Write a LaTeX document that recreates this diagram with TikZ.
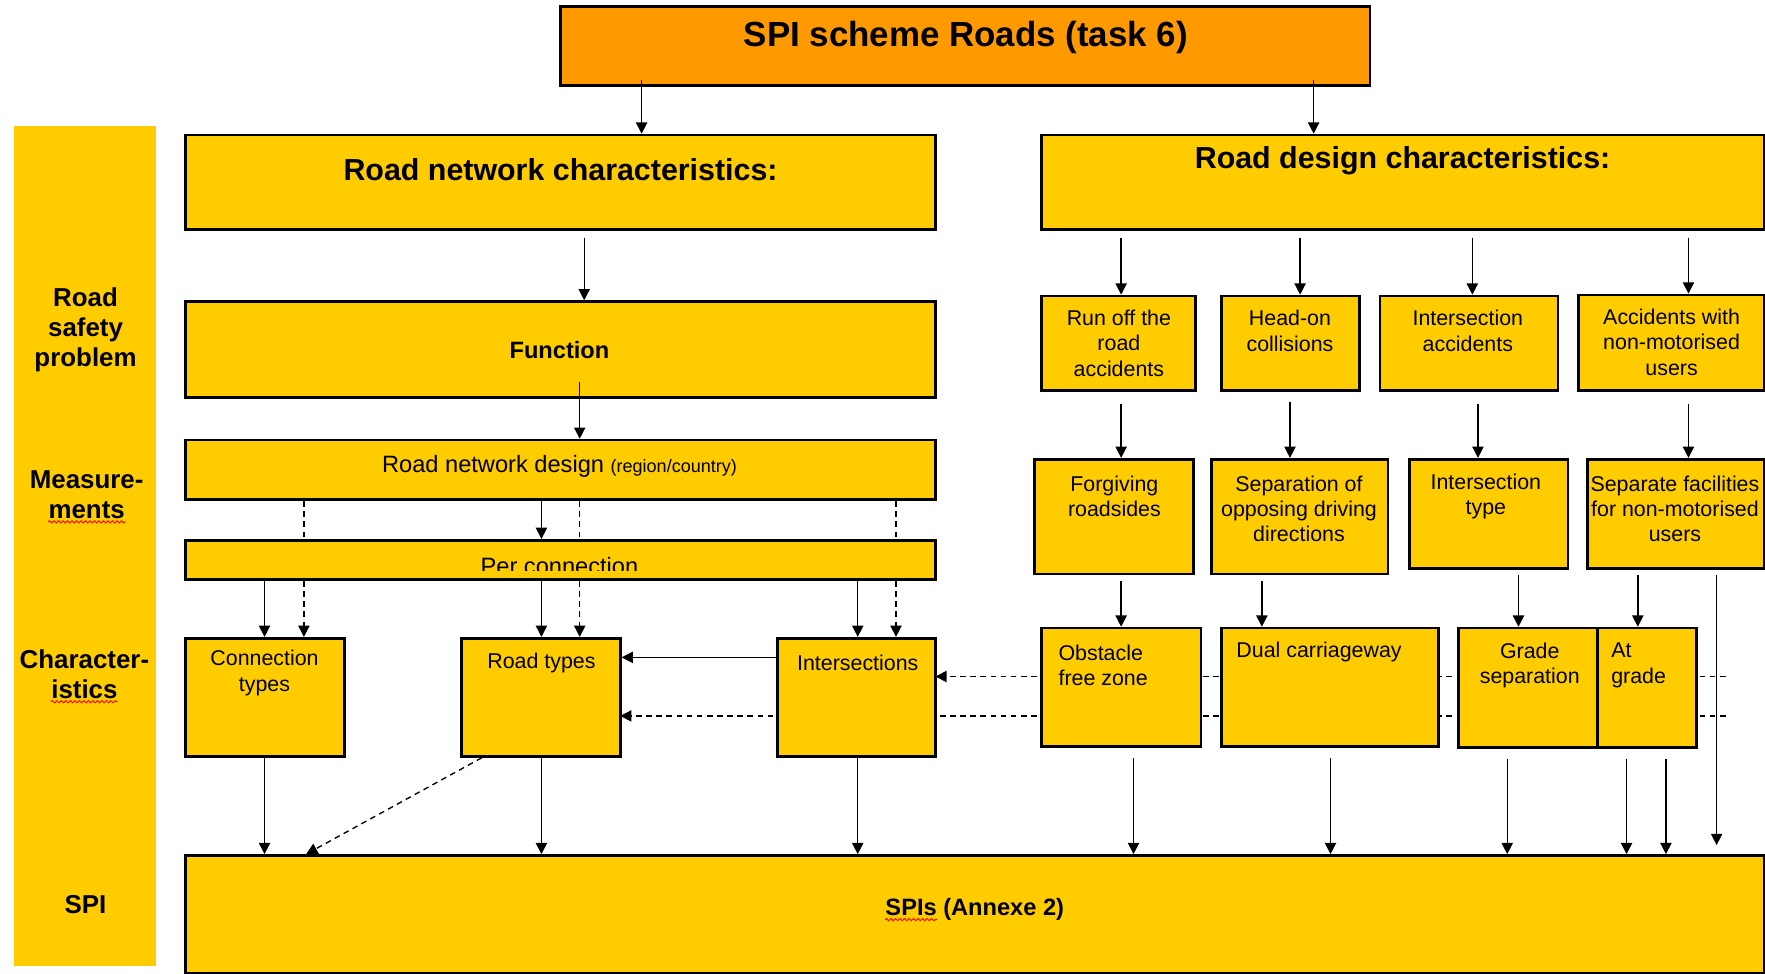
\documentclass[tikz,border=0pt]{standalone}
\usepackage{fontspec}
\setmainfont{Liberation Sans}
\usetikzlibrary{arrows.meta,fit,decorations.pathmorphing}
\definecolor{ylw}{HTML}{FFCC00}
\definecolor{org}{HTML}{FF9900}
\begin{document}
\begin{tikzpicture}[x=0.5pt,y=-0.5pt,
  box/.style={draw=black,line width=1.2pt,fill=ylw,inner sep=0pt},
  arr/.style={-{Triangle[length=5pt,width=5pt]},line width=0.6pt},
  dsh/.style={dash pattern=on 2.5pt off 2pt,line width=0.6pt},
  txt/.style={font=\fontsize{9.5}{11.25}\selectfont,align=center,inner sep=0pt},
  txtl/.style={font=\fontsize{9.5}{11.25}\selectfont,align=left,inner sep=0pt,anchor=west},
  mid/.style={font=\fontsize{10.5}{12.5}\selectfont,inner sep=0pt},
  bmid/.style={font=\bfseries\fontsize{10.5}{12.5}\selectfont,inner sep=0pt},
  hdr/.style={font=\bfseries\fontsize{13.5}{16}\selectfont,inner sep=0pt},
  lbl/.style={font=\bfseries\fontsize{11.5}{13.5}\selectfont,align=center,inner sep=0pt},
  wavy/.style={draw=red,line width=0.4pt,decorate,decoration={snake,amplitude=0.5pt,segment length=2pt}}
]
\useasboundingbox (0,0) rectangle (1568,865);

% left label column
\fill[ylw] (12,112) rectangle (139,858);
\node[lbl] (l-rsp) at (76,293) {Road\\safety\\problem};
\node[lbl] (l-m1) at (77,426) {Measure-};
\node[lbl] (l-m2) at (77,453) {ments};
\draw[wavy] ([yshift=-1.6pt]l-m2.base west) -- ([yshift=-1.6pt]l-m2.base east);
\node[lbl] (l-c1) at (75,586) {Character-};
\node[lbl] (l-c2) at (75,612) {istics};
\draw[wavy] ([yshift=-1.6pt]l-c2.base west) -- ([yshift=-1.6pt]l-c2.base east);
\node[lbl] (l-spi) at (76,804) {SPI};

% free ends of the dashed horizontal lines
\coordinate (d1) at (1533,601);
\coordinate (d2) at (1533,636);

% top box
\node[box,fill=org,fit={(498,6)(1217,76)}] (top) {};
\node[font=\bfseries\fontsize{15.5}{18}\selectfont,inner sep=0pt] (top-t) at (858,33) {SPI scheme Roads (task 6)};

% left column boxes
\node[box,fit={(165,120)(831,204)}] (rnc) {};
\node[hdr] (rnc-t) at (498,151) {Road network characteristics:};
\node[box,fit={(165,268)(831,353)}] (fun) {};
\node[bmid] (fun-t) at (497,311) {Function};
\node[box,fit={(165,391)(831,444)}] (rnd) {};
\node[mid] (rnd-t) at (497,414) {Road network design {\fontsize{8}{9}\selectfont(region/country)}};
\node[box,fit={(165,480)(831,515)}] (per) {};
\begin{scope}
\clip (165,480) rectangle (831,507);
\node[mid,anchor=base] (per-t) at (497,510) {Per connection};
\end{scope}

% dashed lines drawn before the lower boxes
\draw[dsh,-{Triangle[length=5pt,width=5pt]}] (d1) -- (831,601);
\draw[dsh,-{Triangle[length=5pt,width=5pt]}] (d2) -- (551,636);

\node[box,fit={(165,567)(306,672)}] (ct) {};
\node[txt] (ct-t) at (235,598) {Connection\\types};
\node[box,fit={(410,567)(551,672)}] (rt) {};
\node[txt] (rt-t) at (481,589) {Road types};
\node[box,fit={(691,567)(831,672)}] (in) {};
\node[txt] (in-t) at (762,589) {Intersections};

% right column
\node[box,fit={(925,120)(1567,204)}] (rdc) {};
\node[hdr] (rdc-t) at (1246,143) {Road design characteristics:};

\node[box,fit={(925,263)(1062,347)}] (a1) {};
\node[txt] (a1-t) at (994,305) {Run off the\\road\\accidents};
\node[box,fit={(1085,263)(1208,347)}] (a2) {};
\node[txt] (a2-t) at (1146,294) {Head-on\\collisions};
\node[box,fit={(1226,263)(1384,347)}] (a3) {};
\node[txt] (a3-t) at (1304,294) {Intersection\\accidents};
\node[box,fit={(1402,262)(1567,347)}] (a4) {};
\node[txt] (a4-t) at (1485,304) {Accidents with\\non-motorised\\users};

\node[box,fit={(919,408)(1060,510)}] (m1) {};
\node[txt] (m1-t) at (990,441) {Forgiving\\roadsides};
\node[box,fit={(1076,408)(1233,510)}] (m2) {};
\node[txt] (m2-t) at (1154,452) {Separation of\\opposing driving\\directions};
\node[box,fit={(1252,408)(1393,505)}] (m3) {};
\node[txt] (m3-t) at (1320,441) {Intersection\\type};
\node[box,fit={(1410,408)(1567,505)}] (m4) {};
\node[txt] (m4-t) at (1488,452) {Separate facilities\\for non-motorised\\users};

\node[box,fit={(925,558)(1067,663)}] (c1) {};
\node[txtl] (c1-t) at (940,591) {Obstacle\\free zone};
\node[box,fit={(1085,558)(1278,663)}] (c2) {};
\node[txtl] (c2-t) at (1098,579) {Dual carriageway};
\node[box,fit={(1296,558)(1424,664)}] (c3) {};
\node[txt] (c3-t) at (1359,591) {Grade\\separation};
\node[box,fit={(1419,558)(1507,664)}] (c4) {};
\node[txtl] (c4-t) at (1431,591) {At\\grade};

% SPIs
\node[box,fit={(165,760)(1567,865)}] (spi) {};
\node[bmid] (spi-t) at (866,808) {SPIs (Annexe 2)};
\node[bmid,anchor=base west] (spi-w) at (spi-t.base west) {\phantom{SPIs}};
\draw[wavy] ([yshift=-1.8pt]spi-w.base west) -- ([yshift=-1.8pt]spi-w.base east);

% connectors
\draw[arr,shorten <=-3pt] (top.south -| 570,0) -- (rnc.north -| 570,0);
\draw[arr,shorten <=-3pt] (top.south -| 1167,0) -- (rdc.north -| 1167,0);
\draw[arr,shorten <=3pt] (rnc.south -| 519,0) -- (fun.north -| 519,0);
\draw[arr,shorten <=-7.5pt] (fun.south -| 515,0) -- (rnd.north -| 515,0);
\draw[arr] (rnd.south -| 481,0) -- (per.north -| 481,0);
\draw[dsh] (rnd.south -| 270,0) -- (per.north -| 270,0);
\draw[dsh] (rnd.south -| 515,0) -- (per.north -| 515,0);
\draw[dsh] (rnd.south -| 796,0) -- (per.north -| 796,0);

\draw[arr] (per.south -| 235,0) -- (ct.north -| 235,0);
\draw[arr,dsh] (per.south -| 270,0) -- (ct.north -| 270,0);
\draw[arr] (per.south -| 481,0) -- (rt.north -| 481,0);
\draw[arr,dsh] (per.south -| 515,0) -- (rt.north -| 515,0);
\draw[arr] (per.south -| 762,0) -- (in.north -| 762,0);
\draw[arr,dsh] (per.south -| 796,0) -- (in.north -| 796,0);

\draw[arr] (in.west |- 0,584) -- (rt.east |- 0,584);

\draw[arr] (ct.south -| 235,0) -- (spi.north -| 235,0);
\draw[arr,dsh] (rt.south -| 428,0) -- (spi.north -| 272,0);
\draw[arr] (rt.south -| 481,0) -- (spi.north -| 481,0);
\draw[arr] (in.south -| 762,0) -- (spi.north -| 762,0);

\draw[arr,shorten <=3pt] (rdc.south -| 996,0) -- (a1.north -| 996,0);
\draw[arr,shorten <=3pt] (rdc.south -| 1155,0) -- (a2.north -| 1155,0);
\draw[arr,shorten <=3pt] (rdc.south -| 1308,0) -- (a3.north -| 1308,0);
\draw[arr,shorten <=3pt] (rdc.south -| 1500,0) -- (a4.north -| 1500,0);

\draw[arr,shorten <=5.5pt] (a1.south -| 996,0) -- (m1.north -| 996,0);
\draw[arr,shorten <=4.5pt] (a2.south -| 1146,0) -- (m2.north -| 1146,0);
\draw[arr,shorten <=5.5pt] (a3.south -| 1313,0) -- (m3.north -| 1313,0);
\draw[arr,shorten <=5.5pt] (a4.south -| 1500,0) -- (m4.north -| 1500,0);

\draw[arr,shorten <=2.5pt] (m1.south -| 996,0) -- (c1.north -| 996,0);
\draw[arr,shorten <=2.5pt] (m2.south -| 1121,0) -- (c2.north -| 1121,0);
\draw[arr,shorten <=2.5pt] (m3.south -| 1349,0) -- (c3.north -| 1349,0);
\draw[arr,shorten <=2.5pt] (m4.south -| 1455,0) -- (c4.north -| 1455,0);
\draw[arr,shorten <=2.5pt,shorten >=4pt] (m4.south -| 1525,0) -- (spi.north -| 1525,0);

\draw[arr,shorten <=4.5pt] (c1.south -| 1007,0) -- (spi.north -| 1007,0);
\draw[arr,shorten <=4.5pt] (c2.south -| 1182,0) -- (spi.north -| 1182,0);
\draw[arr,shorten <=4.5pt] (c3.south -| 1339,0) -- (spi.north -| 1339,0);
\draw[arr,shorten <=4.5pt] (c4.south -| 1445,0) -- (spi.north -| 1445,0);
\draw[arr,shorten <=4.5pt] (c4.south -| 1480,0) -- (spi.north -| 1480,0);
\end{tikzpicture}
\end{document}
